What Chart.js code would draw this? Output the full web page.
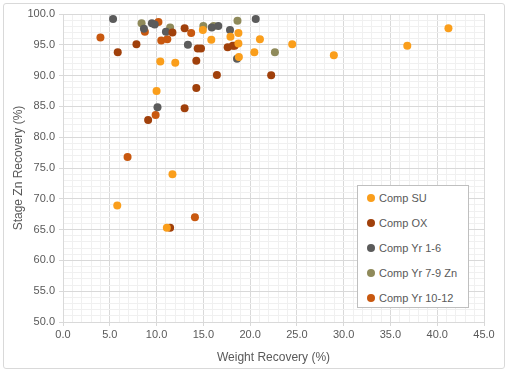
<!DOCTYPE html>
<html>
<head>
<meta charset="utf-8">
<script src="https://cdn.jsdelivr.net/npm/chart.js@4/dist/chart.umd.min.js"></script>
<style>
  html, body { margin: 0; padding: 0; background: #fff; }
  #wrap { position: relative; width: 510px; height: 375px; overflow: hidden; }
  #frame { position: absolute; left: 3px; top: 3px; width: 500px; height: 364px; border: 1px solid #D9D9D9; border-radius: 3px; pointer-events: none; }
  canvas { position: absolute; left: 0; top: 0; }
  #legend { position: absolute; left: 357px; top: 185px; width: 110px; height: 121px; border: 1px solid #BFBFBF; background: #fff; font-family: "Liberation Sans", Arial, sans-serif; font-size: 11px; color: #595959; }
  .item { position: absolute; left: 0; height: 14px; line-height: 14px; white-space: nowrap; }
  .dot { position: absolute; left: 9px; top: 3px; width: 8px; height: 8px; border-radius: 50%; }
  .lab { position: absolute; left: 21px; top: 0; }
</style>
</head>
<body>
<div id="wrap">
  <canvas id="c" width="510" height="375"></canvas>
  <div id="frame"></div>
  <div id="legend"></div>
</div>
<script>
// ---- Data ----
const seriesNames = ["Comp SU", "Comp OX", "Comp Yr 1-6", "Comp Yr 7-9 Zn", "Comp Yr 10-12"];

const compSU = [
  [10.4, 92.3], [12.0, 92.1], [10.0, 87.5], [11.7, 74.0], [5.8, 68.9], [11.1, 65.3],
  [14.95, 97.4], [15.85, 95.8], [17.9, 96.3], [18.75, 96.9], [18.75, 95.2], [18.8, 93.0],
  [21.05, 95.9], [20.45, 93.8], [24.5, 95.1], [28.95, 93.3], [36.8, 94.85], [41.2, 97.7]
];
const compOX = [
  [5.85, 93.8], [7.85, 95.1], [11.7, 97.0], [13.0, 97.7], [14.4, 94.4], [14.75, 94.4],
  [14.25, 92.4], [14.25, 88.0], [13.0, 84.7], [9.1, 82.8], [11.45, 65.3], [17.6, 94.6],
  [18.15, 94.85], [18.35, 94.85], [16.45, 90.1], [22.25, 90.05]
];
const compYr1to6 = [
  [5.35, 99.2], [8.65, 97.6], [9.5, 98.5], [9.8, 98.3], [11.0, 97.1], [13.35, 95.0],
  [10.1, 84.85], [15.9, 97.8], [16.6, 98.05], [17.85, 97.4], [18.6, 92.75], [20.6, 99.2]
];
const compYr7to9Zn = [
  [8.4, 98.5], [11.45, 97.8], [15.0, 98.05], [16.1, 98.05], [18.65, 98.9], [22.65, 93.8]
];
const compYr10to12 = [
  [4.0, 96.2], [8.75, 97.1], [10.2, 98.7], [10.5, 95.7], [11.15, 95.9], [13.7, 96.9],
  [9.9, 83.6], [6.9, 76.8], [14.1, 67.0]
];

const xTickMin = 0, xTickMax = 45, xMajor = 5;
const yTickMin = 50, yTickMax = 100, yMajor = 5;
const xTitle = "Weight Recovery (%)";
const yTitle = "Stage Zn Recovery (%)";

// ---- Styles ----
const colors = ["#FA9E1B", "#A0400B", "#5B5B5B", "#8F8A5A", "#C8580F"];
const allSeries = [compSU, compOX, compYr1to6, compYr7to9Zn, compYr10to12];

const datasets = allSeries.map((s, i) => ({
  label: seriesNames[i],
  data: s.map(p => ({ x: p[0], y: p[1] })),
  backgroundColor: colors[i],
  borderColor: colors[i],
  pointRadius: 4,
  pointHoverRadius: 4,
  pointBorderWidth: 0
}));

const fontFam = '"Liberation Sans", Arial, sans-serif';
const gridColor = (major) => (ctx) => {
  const v = ctx.tick ? ctx.tick.value : 0;
  return Math.abs(v % major) < 1e-6 ? "#D9D9D9" : "#F0F0F0";
};
const tickColor = (major) => (ctx) => {
  const v = ctx.tick ? ctx.tick.value : 0;
  return Math.abs(v % major) < 1e-6 ? "#D9D9D9" : "rgba(0,0,0,0)";
};

new Chart(document.getElementById("c"), {
  type: "scatter",
  data: { datasets },
  options: {
    responsive: false,
    animation: false,
    events: [],
    layout: { padding: { left: 8, right: 26, top: 14, bottom: 8 } },
    plugins: { legend: { display: false }, tooltip: { enabled: false } },
    scales: {
      x: {
        type: "linear",
        min: xTickMin, max: xTickMax,
        afterFit: (s) => { s.height = 45; },
        ticks: {
          stepSize: 1, autoSkip: false, maxRotation: 0, padding: 2,
          color: "#595959", font: { family: fontFam, size: 11 },
          callback: (v) => (Math.abs(v % xMajor) < 1e-6 ? Number(v).toFixed(1) : "")
        },
        grid: { color: gridColor(xMajor), tickColor: tickColor(xMajor), tickLength: 4, lineWidth: 1 },
        border: { display: true, color: "#D9D9D9" },
        title: { display: true, text: xTitle, color: "#595959", font: { family: fontFam, size: 12 }, padding: { top: 0, bottom: 2 } }
      },
      y: {
        type: "linear",
        min: yTickMin, max: yTickMax,
        afterFit: (s) => { s.width = 55; },
        ticks: {
          stepSize: 1, autoSkip: false, padding: 4,
          color: "#595959", font: { family: fontFam, size: 11 },
          callback: (v) => (Math.abs(v % yMajor) < 1e-6 ? Number(v).toFixed(1) : "")
        },
        grid: { color: gridColor(yMajor), tickColor: tickColor(yMajor), tickLength: 4, lineWidth: 1 },
        border: { display: true, color: "#D9D9D9" },
        title: { display: true, text: yTitle, color: "#595959", font: { family: fontFam, size: 12 }, padding: { top: 3, bottom: 0 } }
      }
    }
  }
});

// HTML legend built from the series names and colours
const leg = document.getElementById("legend");
seriesNames.forEach((name, i) => {
  const it = document.createElement("div");
  it.className = "item";
  it.style.top = (5 + i * 25) + "px";
  const d = document.createElement("span");
  d.className = "dot";
  d.style.background = colors[i];
  const t = document.createElement("span");
  t.className = "lab";
  t.textContent = name;
  it.appendChild(d); it.appendChild(t);
  leg.appendChild(it);
});
</script>
</body>
</html>
